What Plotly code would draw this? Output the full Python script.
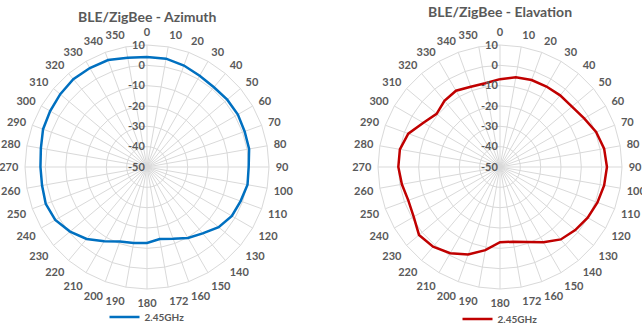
import plotly.graph_objects as go

categories = ["0", "10", "20", "30", "40", "50", "60", "70", "80", "90",
              "100", "110", "120", "130", "140", "150", "160", "172", "180",
              "190", "200", "210", "220", "230", "240", "250", "260", "270",
              "280", "290", "300", "310", "320", "330", "340", "350"]

azimuth_245 = [4.1, 4.1, 3.1, 1.8, 1.2, 1.5, 1.6, 1.1, 1.0, 0.0,
               0.2, -1.0, -1.8, -4.0, -7.4, -9.7, -12.4, -14.0, -12.6,
               -12.0, -11.0, -7.9, -3.8, -0.6, 2.1, 3.0, 2.4, 2.4,
               3.0, 4.4, 5.0, 5.7, 6.4, 6.2, 6.0, 4.6]

elevation_245 = [-6.8, -5.2, -4.5, -4.3, -4.0, -3.8, -2.2, 0.3, 2.0, 2.6,
                 2.0, 1.0, -0.2, -1.7, -3.5, -7.3, -10.7, -12.7, -13.0,
                 -8.5, -4.2, -1.0, 1.2, 2.0, -1.0, -2.0, -1.0, 0.0,
                 0.0, -2.0, -6.5, -9.3, -7.5, -6.7, -8.0, -8.2]

radial_ticks = [-50, -40, -30, -20, -10, 0, 10]

titles = ["BLE/ZigBee - Azimuth", "BLE/ZigBee - Elavation"]
series_name = "2.45GHz"
colors = ["#0070C0", "#C00000"]

TXT = "#595959"
GRID = "#D9D9D9"
FONT = "Lato, 'Open Sans', sans-serif"

fig = go.Figure()

for i, (vals, key, leg) in enumerate([(azimuth_245, "polar", "legend"),
                                      (elevation_245, "polar2", "legend2")]):
    fig.add_trace(go.Scatterpolar(
        r=vals + vals[:1],
        theta=categories + categories[:1],
        mode="lines",
        line=dict(color=colors[i], width=2.5),
        name=series_name,
        subplot=key,
        legend=leg,
        showlegend=True,
        hoverinfo="skip",
    ))

W, H = 642, 325
R = 122
centers = [(147, 167), (500, 167)]


def polar_layout(cx, cy):
    return dict(
        domain=dict(x=[(cx - R) / W, (cx + R) / W],
                    y=[(H - cy - R) / H, (H - cy + R) / H]),
        bgcolor="white",
        gridshape="linear",
        angularaxis=dict(
            type="category",
            categoryorder="array",
            categoryarray=categories,
            direction="clockwise",
            rotation=90,
            showline=True,
            linecolor=GRID,
            linewidth=1,
            gridcolor=GRID,
            gridwidth=1,
            ticks="outside",
            ticklen=4,
            tickcolor="rgba(0,0,0,0)",
            tickfont=dict(family=FONT, size=11, color=TXT, weight="bold"),
        ),
        radialaxis=dict(
            range=[-50, 10],
            tickvals=radial_ticks,
            ticktext=[str(v) for v in radial_ticks],
            ticksuffix="\u2002" * 7,
            angle=90,
            side="counterclockwise",
            tickangle=90,
            showline=False,
            ticks="",
            gridcolor=GRID,
            gridwidth=1,
            tickfont=dict(family=FONT, size=11, color=TXT, weight="bold"),
        ),
    )


fig.update_layout(
    width=W, height=H,
    margin=dict(l=0, r=0, t=0, b=0, autoexpand=False),
    paper_bgcolor="white",
    plot_bgcolor="white",
    polar=polar_layout(*centers[0]),
    polar2=polar_layout(*centers[1]),
    legend=dict(orientation="h", x=147 / W, xanchor="center",
                y=(H - 317) / H, yanchor="middle",
                font=dict(family=FONT, size=10, color=TXT, weight="bold"),
                itemwidth=30, bgcolor="rgba(0,0,0,0)"),
    legend2=dict(orientation="h", x=500 / W, xanchor="center",
                 y=(H - 319) / H, yanchor="middle",
                 font=dict(family=FONT, size=10, color=TXT, weight="bold"),
                 itemwidth=30, bgcolor="rgba(0,0,0,0)"),
    annotations=[
        dict(text=titles[0], x=147 / W, y=(H - 17) / H, xref="paper", yref="paper",
             showarrow=False, xanchor="center", yanchor="middle",
             font=dict(family=FONT, size=14, color=TXT, weight="bold")),
        dict(text=titles[1], x=500 / W, y=(H - 11) / H, xref="paper", yref="paper",
             showarrow=False, xanchor="center", yanchor="middle",
             font=dict(family=FONT, size=14, color=TXT, weight="bold")),
    ],
)

fig.write_html(
    "out.html",
    config={"displayModeBar": False},
    post_script="document.body.style.margin='0px';document.body.style.overflow='hidden';",
)
